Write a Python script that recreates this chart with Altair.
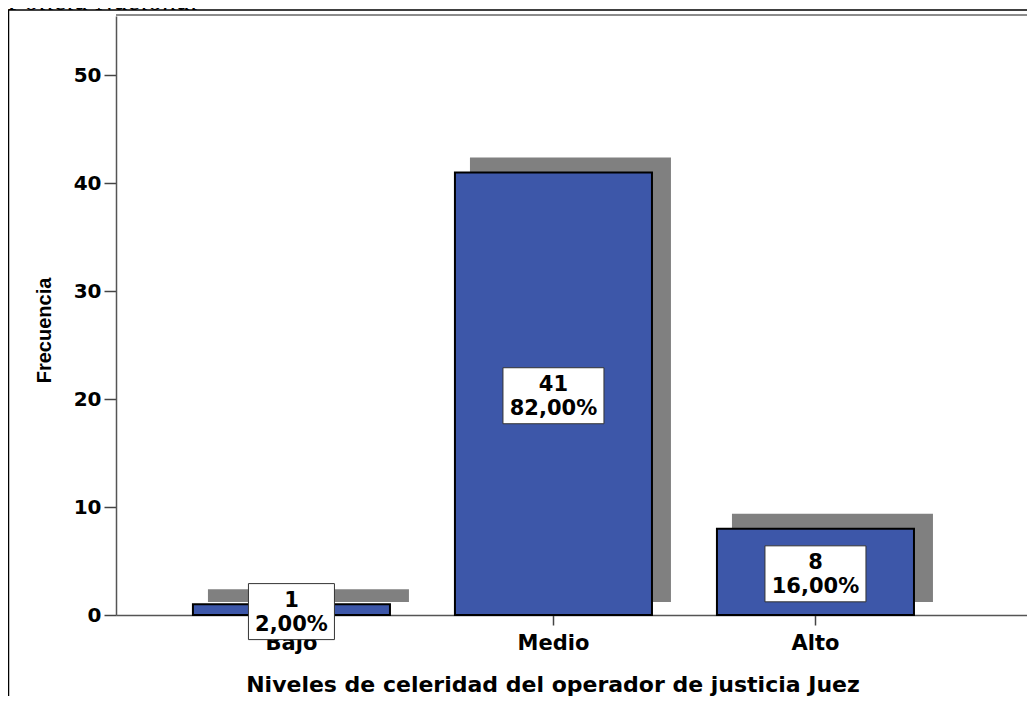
import altair as alt
import pandas as pd

# ---- data ----
categories = ["Bajo", "Medio", "Alto"]
counts = [1, 41, 8]
percents = ["2,00%", "82,00%", "16,00%"]
y_ticks = [0, 10, 20, 30, 40, 50]
x_title = "Niveles de celeridad del operador de justicia Juez"
y_title = "Frecuencia"
top_text = "Policía Nacional"

df = pd.DataFrame({"nivel": categories, "frecuencia": counts, "porcentaje": percents})
one = pd.DataFrame({"k": [0]})

W = 911
H = 599

xscale = alt.Scale(domain=categories, paddingInner=0.248, paddingOuter=0.3625, align=0.405)
yscale = alt.Scale(domain=[0, 55.5], nice=False, zero=True)

X_axis = alt.Axis(
    title=x_title, titleFont="DejaVu Sans", titleFontSize=22, titleFontWeight="bold",
    titleColor="black", titleX=436.5, titleY=69, titleBaseline="middle", titleAlign="center",
    labelFont="DejaVu Sans", labelFontSize=21, labelFontWeight="bold", labelColor="black",
    labelAngle=0, labelPadding=7, tickSize=10, tickWidth=1.5, tickColor="#444444",
    domainColor="#555555", domainWidth=1.5, grid=False, zindex=0,
)
Y_axis = alt.Axis(
    title=y_title, titleFont="Liberation Sans", titleFontSize=20, titleFontWeight="bold",
    titleColor="black", titleAngle=270, titleX=-72, titleY=314, titleBaseline="middle",
    titleAlign="center",
    values=y_ticks, labelFont="DejaVu Sans", labelFontSize=20, labelFontWeight="bold",
    labelColor="black", labelPadding=3, tickSize=12, tickWidth=1.5, tickColor="#444444",
    domainColor="#555555", domainWidth=1.5, grid=False, zindex=0,
)

X = alt.X("nivel:N", scale=xscale, sort=categories, axis=X_axis)


def Yq(field):
    return alt.Y(field, scale=yscale, axis=Y_axis)


base = alt.Chart(df)

shadow = base.mark_bar(color="#808080", width=201, xOffset=17, yOffset=-15, y2Offset=-13).encode(
    x=X, y=Yq("frecuencia:Q"), y2=alt.datum(0),
)

bars = base.mark_bar(color="#3D57A9", stroke="black", strokeWidth=2).encode(
    x=X, y=Yq("frecuencia:Q"), y2=alt.datum(0),
)

lab = base.transform_calculate(mid="datum.frecuencia / 2", label="datum.frecuencia + '\\n' + datum.porcentaje")

box_wide = lab.transform_filter(alt.datum.nivel != "Bajo").mark_bar(
    color="white", stroke="#333333", strokeWidth=1, width=101, yOffset=-26, y2Offset=30
).encode(x=X, y=Yq("mid:Q"), y2="mid:Q")

box_narrow = lab.transform_filter(alt.datum.nivel == "Bajo").mark_bar(
    color="white", stroke="#333333", strokeWidth=1, width=86, yOffset=-26, y2Offset=30
).encode(x=X, y=Yq("mid:Q"), y2="mid:Q")

texts = lab.mark_text(
    font="DejaVu Sans", fontSize=21, fontWeight="bold", color="black",
    lineBreak="\n", lineHeight=24, baseline="middle", align="center", dy=-9,
).encode(x=X, y=Yq("mid:Q"), text="label:N")

frame_top = alt.Chart(one).mark_rule(color="#8c8c8c", strokeWidth=2).encode(
    x=alt.value(0), x2=alt.value(W + 20), y=alt.value(-1)
)
outer_left = alt.Chart(one).mark_rule(color="black", strokeWidth=1.5).encode(
    x=alt.value(-107.5), y=alt.value(-6), y2=alt.value(H + 120)
)
outer_top = alt.Chart(one).mark_rule(color="black", strokeWidth=1.5).encode(
    x=alt.value(-107.5), x2=alt.value(W + 20), y=alt.value(-6)
)
caption = alt.Chart(one).mark_text(
    font="Liberation Serif", fontStyle="italic", fontSize=28, align="left",
    baseline="alphabetic", color="black",
).encode(x=alt.value(-108), y=alt.value(-6.5), text=alt.value(top_text))

chart = alt.layer(
    shadow, bars, box_wide, box_narrow, texts, frame_top, outer_left, outer_top, caption
).properties(
    width=W, height=H,
    autosize=alt.AutoSizeParams(type="none"),
    padding={"left": 108, "top": 8, "right": 0, "bottom": 81},
    background="white",
).configure_view(stroke=None)

chart.save("out.html", embed_options={"renderer": "svg", "actions": False})
